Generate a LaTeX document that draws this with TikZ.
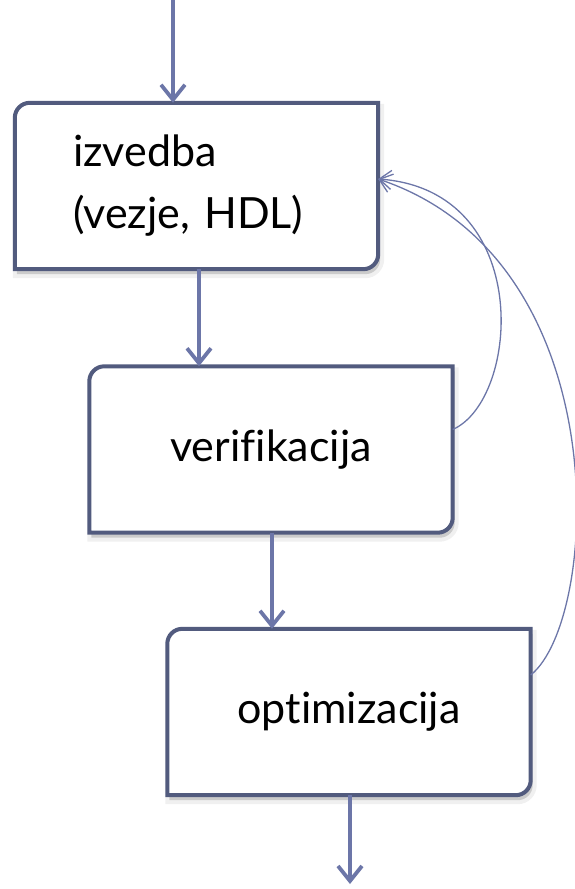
\documentclass[tikz,border=0pt]{standalone}
\usepackage{fontspec}
\setmainfont{Lato}[Ligatures=NoCommon]
\usetikzlibrary{arrows.meta,backgrounds}
\definecolor{boxc}{HTML}{525B7E}
\definecolor{arrc}{HTML}{6C76A8}
\newcommand\rboxdraw[2]{\draw[#2] (#1.south west) -- ([yshift=-15pt]#1.north west) arc[start angle=180,end angle=90,radius=15pt] -- (#1.north east) -- ([yshift=15pt]#1.south east) arc[start angle=0,end angle=-90,radius=15pt] -- cycle;}
\begin{document}
\begin{tikzpicture}[x=1pt,y=1pt,
  stage/.style={minimum width=363pt, minimum height=166pt, inner sep=0pt, font=\fontsize{43}{62}\selectfont},
  flow/.style={draw=arrc, line width=3.8pt, -{Straight Barb[length=15pt,width=24pt,line width=3.8pt]}},
  fb/.style={draw=arrc, line width=1.3pt, -{Straight Barb[length=12pt,width=19pt,line width=1.3pt]}}]
\useasboundingbox (0,0) rectangle (575,-889);
\node[stage, align=left, text width=247pt] (b1) at (196.5,-186) {izvedba\\(vezje, HDL)};
\node[stage] (b2) at (271,-449.5) {verifikacija};
\node[stage] (b3) at (349,-712) {optimizacija};
\begin{scope}[on background layer]
  \foreach \b in {b1,b2,b3}{
    \rboxdraw{\b}{fill=black, opacity=0.06, draw=black, line width=8pt, transform canvas={shift={(2pt,-5pt)}}}
    \rboxdraw{\b}{fill=black, opacity=0.10, draw=none, transform canvas={shift={(2pt,-5pt)}}}
    \rboxdraw{\b}{fill=white, draw=boxc, line width=4pt}
  }
\end{scope}
\coordinate (top) at (173,0);
\coordinate (x12) at (199,0);
\coordinate (x23) at (272,0);
\coordinate (bot) at (350,-884);
\draw[flow] (top) -- (top |- b1.north);
\draw[flow] (b1.south -| x12) -- (b2.north -| x12);
\draw[flow] (b2.south -| x23) -- (b3.north -| x23);
\draw[flow] (b3.south -| bot) -- (bot);
\draw[fb] ([yshift=20pt]b2.east) .. controls (520,-400) and (535,-190) .. ([yshift=7pt]b1.east);
\draw[fb] ([yshift=37pt]b3.east) .. controls (600,-620) and (620,-260) .. ([yshift=7pt]b1.east);
\end{tikzpicture}
\end{document}
